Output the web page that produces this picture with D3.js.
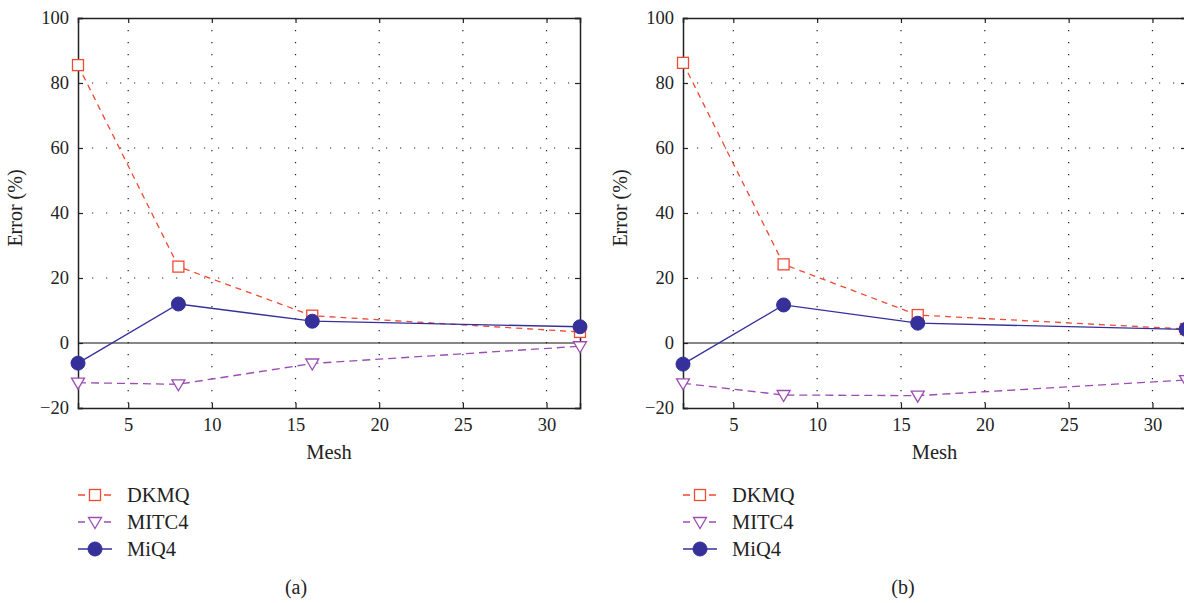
<!DOCTYPE html>
<html>
<head>
<meta charset="utf-8" />
<script src="https://d3js.org/d3.v7.min.js"></script>
<style>
  body { margin: 0; background: #fff; }
  svg { display: block; }
  text { font-family: "Liberation Serif", "DejaVu Serif", serif; fill: #222; }
</style>
</head>
<body>
<svg width="1184" height="603"></svg>
<script>
const meshes = [2, 8, 16, 32];
const seriesNames = ["DKMQ", "MITC4", "MiQ4"];

// panel (a)
const dkmqA = [85.5, 23.5, 8.4, 3.4];
const mitc4A = [-12.2, -12.7, -6.3, -1.0];
const miq4A = [-6.2, 12.0, 6.7, 5.0];

// panel (b)
const dkmqB = [86.2, 24.2, 8.6, 4.3];
const mitc4B = [-12.4, -16.0, -16.2, -11.4];
const miq4B = [-6.5, 11.7, 6.1, 4.2];

const xTicks = [5, 10, 15, 20, 25, 30];
const yTicks = [-20, 0, 20, 40, 60, 80, 100];

const colors = { DKMQ: "#ef4a32", MITC4: "#9b4db2", MiQ4: "#35309a" };
const dashes = { DKMQ: "6,5", MITC4: "8,5", MiQ4: null };

const svg = d3.select("svg");

function drawPanel(x0, x1, series, tag, legendX, tagX) {
  const top = 18, bottom = 408;
  const x = d3.scaleLinear().domain([2, 32]).range([x0, x1]);
  const y = d3.scaleLinear().domain([-20, 100]).range([bottom, top]);
  const g = svg.append("g");

  // dotted grid
  g.selectAll(".gx").data(xTicks).enter().append("line")
    .attr("x1", d => x(d)).attr("x2", d => x(d))
    .attr("y1", top).attr("y2", bottom)
    .attr("stroke", "#222").attr("stroke-width", 1.2)
    .attr("stroke-dasharray", "1.2,10.8");
  g.selectAll(".gy").data(yTicks.filter(d => d !== 0 && d !== 100 && d !== -20)).enter().append("line")
    .attr("x1", x0).attr("x2", x1)
    .attr("y1", d => y(d)).attr("y2", d => y(d))
    .attr("stroke", "#222").attr("stroke-width", 1.2)
    .attr("stroke-dasharray", "1.2,12.8");

  // zero line
  g.append("line").attr("x1", x0).attr("x2", x1)
    .attr("y1", y(0)).attr("y2", y(0))
    .attr("stroke", "#111").attr("stroke-width", 1.2);

  // axes
  const xa = g.append("g").attr("transform", `translate(0,${bottom})`)
    .call(d3.axisBottom(x).tickValues(xTicks).tickSize(-5).tickPadding(10));
  const xt = g.append("g").attr("transform", `translate(0,${top})`)
    .call(d3.axisTop(x).tickValues(xTicks).tickSize(-5).tickFormat(""));
  const ya = g.append("g").attr("transform", `translate(${x0},0)`)
    .call(d3.axisLeft(y).tickValues(yTicks).tickSize(-5).tickPadding(9)
      .tickFormat(d => d < 0 ? "\u2212" + Math.abs(d) : d));
  const yr = g.append("g").attr("transform", `translate(${x1},0)`)
    .call(d3.axisRight(y).tickValues(yTicks).tickSize(-5).tickFormat(""));
  [xa, xt, ya, yr].forEach(a => {
    a.select(".domain").attr("stroke", "#222").attr("stroke-width", 1.5);
    a.selectAll(".tick line").attr("stroke", "#222").attr("stroke-width", 1.2);
    a.selectAll("text").style("font-family", "'Liberation Serif', serif")
      .style("font-size", "18.5px").attr("fill", "#222");
  });

  // axis titles
  g.append("text").attr("x", (x0 + x1) / 2).attr("y", 459)
    .attr("text-anchor", "middle").style("font-size", "20.5px").text("Mesh");
  g.append("text")
    .attr("transform", `translate(${x0 - 56},${(top + bottom) / 2 - 5}) rotate(-90)`)
    .attr("text-anchor", "middle").style("font-size", "20px").text("Error (%)");

  const line = d3.line().x((d, i) => x(meshes[i])).y(d => y(d));

  const order = ["DKMQ", "MITC4", "MiQ4"];
  order.forEach(name => {
    const vals = series[name];
    g.append("path").attr("d", line(vals)).attr("fill", "none")
      .attr("stroke", colors[name]).attr("stroke-width", 1.3)
      .attr("stroke-dasharray", dashes[name]);
    drawMarkers(g, name, vals.map((v, i) => [x(meshes[i]), y(v)]));
  });

  // legend
  const rows = [495, 522, 549];
  seriesNames.forEach((name, i) => {
    const ly = rows[i];
    g.append("line").attr("x1", legendX).attr("x2", legendX + 34)
      .attr("y1", ly).attr("y2", ly)
      .attr("stroke", colors[name]).attr("stroke-width", 1.3)
      .attr("stroke-dasharray", name === "MiQ4" ? null : "7,6");
    drawMarkers(g, name, [[legendX + 17, ly]]);
    g.append("text").attr("x", legendX + 49).attr("y", ly + 7)
      .style("font-size", "20.5px").text(name);
  });

  g.append("text").attr("x", tagX).attr("y", 594)
    .attr("text-anchor", "middle").style("font-size", "20px").text(tag);
}

function drawMarkers(g, name, pts) {
  const c = colors[name];
  pts.forEach(([px, py]) => {
    if (name === "DKMQ") {
      g.append("rect").attr("x", px - 5.5).attr("y", py - 5.5)
        .attr("width", 11).attr("height", 11)
        .attr("fill", "#fff").attr("stroke", c).attr("stroke-width", 1.3);
    } else if (name === "MITC4") {
      g.append("path")
        .attr("d", `M${px - 6.5},${py - 4.5}L${px + 6.5},${py - 4.5}L${px},${py + 6.5}Z`)
        .attr("fill", "#fff").attr("stroke", c).attr("stroke-width", 1.3);
    } else {
      g.append("circle").attr("cx", px).attr("cy", py).attr("r", 7)
        .attr("fill", c).attr("stroke", c);
    }
  });
}

drawPanel(78, 580, { DKMQ: dkmqA, MITC4: mitc4A, MiQ4: miq4A }, "(a)", 78, 296);
drawPanel(683, 1186, { DKMQ: dkmqB, MITC4: mitc4B, MiQ4: miq4B }, "(b)", 683, 903);
</script>
</body>
</html>
